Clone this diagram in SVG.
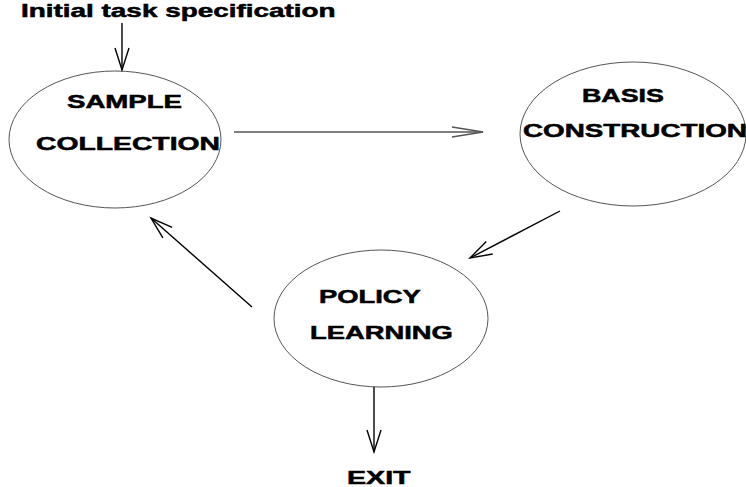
<svg xmlns="http://www.w3.org/2000/svg" width="746" height="487" viewBox="0 0 746 487">
  <style>
    .node ellipse { fill: #ffffff; stroke: #555555; stroke-width: 1; }
    .label { font-family: "Liberation Sans", Arial, sans-serif; font-weight: bold; font-size: 18px; fill: #000000; stroke: #000000; stroke-width: 0.5; }
    .conn { stroke: #000000; stroke-width: 1.4; fill: none; }
    .conn-h { stroke: #555555; stroke-width: 1.6; fill: none; }
  </style>
  <defs>
    <marker id="vee" markerUnits="userSpaceOnUse" markerWidth="26" markerHeight="18" refX="22" refY="8" orient="auto" overflow="visible">
      <path d="M0,1 L22,8 L0,15" fill="none" stroke="#000000" stroke-width="1.4"/>
    </marker>
    <marker id="vee-long" markerUnits="userSpaceOnUse" markerWidth="34" markerHeight="14" refX="31" refY="6" orient="auto" overflow="visible">
      <path d="M0,1 L31,6 L0,11" fill="none" stroke="#555555" stroke-width="1.6"/>
    </marker>
  </defs>

  <rect x="0" y="0" width="746" height="487" fill="#ffffff"/>

  <!-- labels are drawn in a wide, horizontally stretched bold face -->
  <text class="label" font-size="16" transform="translate(21,17) scale(1.55,1)">Initial task specification</text>

  <g id="sample-collection" class="node">
    <ellipse cx="115" cy="139.5" rx="106" ry="68.5"/>
    <text class="label" transform="translate(67,108) scale(1.533,1)">SAMPLE</text>
    <text class="label" transform="translate(36,150) scale(1.573,1)">COLLECTION</text>
  </g>

  <g id="basis-construction" class="node">
    <ellipse cx="633" cy="134" rx="113" ry="72"/>
    <text class="label" transform="translate(582,102) scale(1.49,1)">BASIS</text>
    <text class="label" transform="translate(523,137) scale(1.545,1)">CONSTRUCTION</text>
  </g>

  <g id="policy-learning" class="node">
    <ellipse cx="381" cy="318.5" rx="107" ry="68.5"/>
    <text class="label" transform="translate(319,303) scale(1.52,1)">POLICY</text>
    <text class="label" transform="translate(310,339) scale(1.52,1)">LEARNING</text>
  </g>

  <g id="exit">
    <text class="label" font-size="17" transform="translate(347,484) scale(1.59,1)">EXIT</text>
  </g>

  <g id="connectors">
    <line class="conn" x1="122" y1="23" x2="122" y2="70" marker-end="url(#vee)"/>
    <line class="conn-h" x1="234" y1="132" x2="483" y2="132" marker-end="url(#vee-long)"/>
    <line class="conn" x1="560" y1="211" x2="470" y2="258" marker-end="url(#vee)"/>
    <line class="conn" x1="252" y1="307" x2="151" y2="218" marker-end="url(#vee)"/>
    <line class="conn" x1="374" y1="387" x2="374" y2="452" marker-end="url(#vee)"/>
  </g>
</svg>
